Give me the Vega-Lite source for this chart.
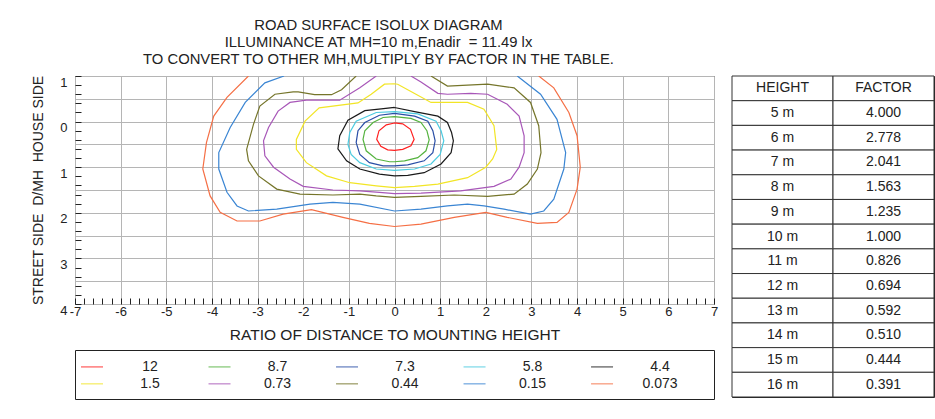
{
  "$schema": "https://vega.github.io/schema/vega-lite/v6.json",
  "autosize": {"type": "pad"},
  "padding": {"left": 31, "top": 17, "right": 0, "bottom": 0},
  "background": "white",
  "config": {
    "font": "Liberation Sans",
    "view": {"stroke": "#222", "strokeWidth": 1},
    "axis": {"labelColor": "#222", "titleColor": "#222", "labelFont": "Liberation Sans", "titleFont": "Liberation Sans", "titleFontWeight": "normal"},
    "title": {"font": "Liberation Sans", "fontSize": 14.8, "fontWeight": "normal", "color": "#222", "lineHeight": 17, "anchor": "middle", "frame": "group", "baseline": "alphabetic", "offset": 6}
  },
  "datasets": {
    "contours": [
      {"lv": "12", "i": 0, "x": 0, "y": 0.03}, {"lv": "12", "i": 1, "x": 0.18, "y": 0.05}, {"lv": "12", "i": 2, "x": 0.35, "y": 0.17}, {"lv": "12", "i": 3, "x": 0.43, "y": 0.39}, {"lv": "12", "i": 4, "x": 0.36, "y": 0.53}, {"lv": "12", "i": 5, "x": 0.18, "y": 0.61}, {"lv": "12", "i": 6, "x": 0, "y": 0.63}, {"lv": "12", "i": 7, "x": -0.15, "y": 0.62}, {"lv": "12", "i": 8, "x": -0.3, "y": 0.54}, {"lv": "12", "i": 9, "x": -0.39, "y": 0.39}, {"lv": "12", "i": 10, "x": -0.34, "y": 0.2}, {"lv": "12", "i": 11, "x": -0.18, "y": 0.07}, {"lv": "12", "i": 12, "x": 0, "y": 0.03},

      {"lv": "8.7", "i": 0, "x": 0, "y": -0.11}, {"lv": "8.7", "i": 1, "x": 0.36, "y": -0.07}, {"lv": "8.7", "i": 2, "x": 0.58, "y": 0.02}, {"lv": "8.7", "i": 3, "x": 0.71, "y": 0.2}, {"lv": "8.7", "i": 4, "x": 0.76, "y": 0.4}, {"lv": "8.7", "i": 5, "x": 0.69, "y": 0.64}, {"lv": "8.7", "i": 6, "x": 0.51, "y": 0.79}, {"lv": "8.7", "i": 7, "x": 0.22, "y": 0.86}, {"lv": "8.7", "i": 8, "x": 0, "y": 0.88}, {"lv": "8.7", "i": 9, "x": -0.11, "y": 0.88}, {"lv": "8.7", "i": 10, "x": -0.4, "y": 0.82}, {"lv": "8.7", "i": 11, "x": -0.62, "y": 0.64}, {"lv": "8.7", "i": 12, "x": -0.69, "y": 0.39}, {"lv": "8.7", "i": 13, "x": -0.65, "y": 0.2}, {"lv": "8.7", "i": 14, "x": -0.47, "y": 0.02}, {"lv": "8.7", "i": 15, "x": -0.25, "y": -0.09}, {"lv": "8.7", "i": 16, "x": 0, "y": -0.11},

      {"lv": "7.3", "i": 0, "x": 0, "y": -0.18}, {"lv": "7.3", "i": 1, "x": 0.44, "y": -0.12}, {"lv": "7.3", "i": 2, "x": 0.73, "y": -0.01}, {"lv": "7.3", "i": 3, "x": 0.84, "y": 0.2}, {"lv": "7.3", "i": 4, "x": 0.89, "y": 0.42}, {"lv": "7.3", "i": 5, "x": 0.84, "y": 0.68}, {"lv": "7.3", "i": 6, "x": 0.65, "y": 0.86}, {"lv": "7.3", "i": 7, "x": 0.29, "y": 0.95}, {"lv": "7.3", "i": 8, "x": 0, "y": 0.97}, {"lv": "7.3", "i": 9, "x": -0.25, "y": 0.97}, {"lv": "7.3", "i": 10, "x": -0.55, "y": 0.9}, {"lv": "7.3", "i": 11, "x": -0.76, "y": 0.72}, {"lv": "7.3", "i": 12, "x": -0.84, "y": 0.46}, {"lv": "7.3", "i": 13, "x": -0.8, "y": 0.2}, {"lv": "7.3", "i": 14, "x": -0.65, "y": 0.02}, {"lv": "7.3", "i": 15, "x": -0.33, "y": -0.14}, {"lv": "7.3", "i": 16, "x": 0, "y": -0.18},

      {"lv": "5.8", "i": 0, "x": 0, "y": -0.22}, {"lv": "5.8", "i": 1, "x": 0.51, "y": -0.17}, {"lv": "5.8", "i": 2, "x": 0.91, "y": -0.01}, {"lv": "5.8", "i": 3, "x": 1.02, "y": 0.2}, {"lv": "5.8", "i": 4, "x": 1.08, "y": 0.42}, {"lv": "5.8", "i": 5, "x": 1.0, "y": 0.72}, {"lv": "5.8", "i": 6, "x": 0.8, "y": 0.93}, {"lv": "5.8", "i": 7, "x": 0.44, "y": 1.04}, {"lv": "5.8", "i": 8, "x": 0, "y": 1.07}, {"lv": "5.8", "i": 9, "x": -0.4, "y": 1.04}, {"lv": "5.8", "i": 10, "x": -0.76, "y": 0.9}, {"lv": "5.8", "i": 11, "x": -0.95, "y": 0.72}, {"lv": "5.8", "i": 12, "x": -1.02, "y": 0.5}, {"lv": "5.8", "i": 13, "x": -0.98, "y": 0.24}, {"lv": "5.8", "i": 14, "x": -0.84, "y": -0.01}, {"lv": "5.8", "i": 15, "x": -0.4, "y": -0.2}, {"lv": "5.8", "i": 16, "x": 0, "y": -0.22},

      {"lv": "4.4", "i": 0, "x": 0, "y": -0.31}, {"lv": "4.4", "i": 1, "x": 0.44, "y": -0.22}, {"lv": "4.4", "i": 2, "x": 0.95, "y": -0.12}, {"lv": "4.4", "i": 3, "x": 1.16, "y": 0.02}, {"lv": "4.4", "i": 4, "x": 1.25, "y": 0.24}, {"lv": "4.4", "i": 5, "x": 1.29, "y": 0.42}, {"lv": "4.4", "i": 6, "x": 1.24, "y": 0.68}, {"lv": "4.4", "i": 7, "x": 1.02, "y": 0.93}, {"lv": "4.4", "i": 8, "x": 0.65, "y": 1.12}, {"lv": "4.4", "i": 9, "x": 0.29, "y": 1.18}, {"lv": "4.4", "i": 10, "x": 0, "y": 1.19}, {"lv": "4.4", "i": 11, "x": -0.33, "y": 1.15}, {"lv": "4.4", "i": 12, "x": -0.76, "y": 1.04}, {"lv": "4.4", "i": 13, "x": -1.05, "y": 0.86}, {"lv": "4.4", "i": 14, "x": -1.24, "y": 0.6}, {"lv": "4.4", "i": 15, "x": -1.2, "y": 0.31}, {"lv": "4.4", "i": 16, "x": -1.02, "y": -0.03}, {"lv": "4.4", "i": 17, "x": -0.65, "y": -0.24}, {"lv": "4.4", "i": 18, "x": -0.29, "y": -0.28}, {"lv": "4.4", "i": 19, "x": 0, "y": -0.31},

      {"lv": "1.5", "i": 0, "x": 0, "y": -0.83}, {"lv": "1.5", "i": 1, "x": 0.07, "y": -0.82}, {"lv": "1.5", "i": 2, "x": 0.36, "y": -0.66}, {"lv": "1.5", "i": 3, "x": 0.8, "y": -0.42}, {"lv": "1.5", "i": 4, "x": 1.6, "y": -0.42}, {"lv": "1.5", "i": 5, "x": 1.96, "y": -0.27}, {"lv": "1.5", "i": 6, "x": 2.18, "y": 0.09}, {"lv": "1.5", "i": 7, "x": 2.24, "y": 0.61}, {"lv": "1.5", "i": 8, "x": 2.15, "y": 0.82}, {"lv": "1.5", "i": 9, "x": 2.0, "y": 1.0}, {"lv": "1.5", "i": 10, "x": 1.6, "y": 1.23}, {"lv": "1.5", "i": 11, "x": 0.95, "y": 1.37}, {"lv": "1.5", "i": 12, "x": 0.44, "y": 1.42}, {"lv": "1.5", "i": 13, "x": 0, "y": 1.45}, {"lv": "1.5", "i": 14, "x": -0.4, "y": 1.41}, {"lv": "1.5", "i": 15, "x": -0.98, "y": 1.34}, {"lv": "1.5", "i": 16, "x": -1.49, "y": 1.19}, {"lv": "1.5", "i": 17, "x": -1.93, "y": 0.9}, {"lv": "1.5", "i": 18, "x": -2.15, "y": 0.61}, {"lv": "1.5", "i": 19, "x": -2.15, "y": 0.39}, {"lv": "1.5", "i": 20, "x": -1.96, "y": -0.01}, {"lv": "1.5", "i": 21, "x": -1.65, "y": -0.3}, {"lv": "1.5", "i": 22, "x": -0.8, "y": -0.41}, {"lv": "1.5", "i": 23, "x": -0.51, "y": -0.6}, {"lv": "1.5", "i": 24, "x": -0.22, "y": -0.82}, {"lv": "1.5", "i": 25, "x": 0, "y": -0.83},

      {"lv": "0.73", "i": 0, "x": -0.4, "y": -1}, {"lv": "0.73", "i": 1, "x": -0.76, "y": -0.74}, {"lv": "0.73", "i": 2, "x": -1.2, "y": -0.47}, {"lv": "0.73", "i": 3, "x": -1.93, "y": -0.47}, {"lv": "0.73", "i": 4, "x": -2.29, "y": -0.42}, {"lv": "0.73", "i": 5, "x": -2.55, "y": -0.23}, {"lv": "0.73", "i": 6, "x": -2.76, "y": 0.13}, {"lv": "0.73", "i": 7, "x": -2.87, "y": 0.42}, {"lv": "0.73", "i": 8, "x": -2.84, "y": 0.75}, {"lv": "0.73", "i": 9, "x": -2.65, "y": 1.0}, {"lv": "0.73", "i": 10, "x": -2.29, "y": 1.26}, {"lv": "0.73", "i": 11, "x": -2.0, "y": 1.42}, {"lv": "0.73", "i": 12, "x": -1.35, "y": 1.5}, {"lv": "0.73", "i": 13, "x": -0.76, "y": 1.52}, {"lv": "0.73", "i": 14, "x": -0.33, "y": 1.55}, {"lv": "0.73", "i": 15, "x": 0, "y": 1.58}, {"lv": "0.73", "i": 16, "x": 0.58, "y": 1.57}, {"lv": "0.73", "i": 17, "x": 1.45, "y": 1.52}, {"lv": "0.73", "i": 18, "x": 2.18, "y": 1.42}, {"lv": "0.73", "i": 19, "x": 2.55, "y": 1.26}, {"lv": "0.73", "i": 20, "x": 2.73, "y": 1.0}, {"lv": "0.73", "i": 21, "x": 2.84, "y": 0.68}, {"lv": "0.73", "i": 22, "x": 2.84, "y": 0.31}, {"lv": "0.73", "i": 23, "x": 2.73, "y": -0.12}, {"lv": "0.73", "i": 24, "x": 2.47, "y": -0.38}, {"lv": "0.73", "i": 25, "x": 2.04, "y": -0.6}, {"lv": "0.73", "i": 26, "x": 1.67, "y": -0.62}, {"lv": "0.73", "i": 27, "x": 1.16, "y": -0.6}, {"lv": "0.73", "i": 28, "x": 0.95, "y": -0.62}, {"lv": "0.73", "i": 29, "x": 0.58, "y": -0.87}, {"lv": "0.73", "i": 30, "x": 0.36, "y": -1},

      {"lv": "0.44", "i": 0, "x": -0.84, "y": -1}, {"lv": "0.44", "i": 1, "x": -1.16, "y": -0.7}, {"lv": "0.44", "i": 2, "x": -1.38, "y": -0.59}, {"lv": "0.44", "i": 3, "x": -1.75, "y": -0.59}, {"lv": "0.44", "i": 4, "x": -2.11, "y": -0.65}, {"lv": "0.44", "i": 5, "x": -2.22, "y": -0.65}, {"lv": "0.44", "i": 6, "x": -2.62, "y": -0.6}, {"lv": "0.44", "i": 7, "x": -2.95, "y": -0.34}, {"lv": "0.44", "i": 8, "x": -3.09, "y": 0.06}, {"lv": "0.44", "i": 9, "x": -3.24, "y": 0.61}, {"lv": "0.44", "i": 10, "x": -3.2, "y": 0.86}, {"lv": "0.44", "i": 11, "x": -2.98, "y": 1.19}, {"lv": "0.44", "i": 12, "x": -2.58, "y": 1.48}, {"lv": "0.44", "i": 13, "x": -2.07, "y": 1.59}, {"lv": "0.44", "i": 14, "x": -1.35, "y": 1.61}, {"lv": "0.44", "i": 15, "x": -0.76, "y": 1.59}, {"lv": "0.44", "i": 16, "x": -0.4, "y": 1.63}, {"lv": "0.44", "i": 17, "x": 0, "y": 1.66}, {"lv": "0.44", "i": 18, "x": 0.58, "y": 1.64}, {"lv": "0.44", "i": 19, "x": 1.31, "y": 1.61}, {"lv": "0.44", "i": 20, "x": 2.04, "y": 1.64}, {"lv": "0.44", "i": 21, "x": 2.62, "y": 1.59}, {"lv": "0.44", "i": 22, "x": 2.91, "y": 1.37}, {"lv": "0.44", "i": 23, "x": 3.13, "y": 1.04}, {"lv": "0.44", "i": 24, "x": 3.21, "y": 0.68}, {"lv": "0.44", "i": 25, "x": 3.16, "y": 0.09}, {"lv": "0.44", "i": 26, "x": 2.98, "y": -0.42}, {"lv": "0.44", "i": 27, "x": 2.62, "y": -0.74}, {"lv": "0.44", "i": 28, "x": 2.04, "y": -0.82}, {"lv": "0.44", "i": 29, "x": 1.16, "y": -0.78}, {"lv": "0.44", "i": 30, "x": 0.8, "y": -1},

      {"lv": "0.15", "i": 0, "x": -2.42, "y": -1}, {"lv": "0.15", "i": 1, "x": -2.84, "y": -0.85}, {"lv": "0.15", "i": 2, "x": -3.27, "y": -0.42}, {"lv": "0.15", "i": 3, "x": -3.6, "y": 0.13}, {"lv": "0.15", "i": 4, "x": -3.85, "y": 0.68}, {"lv": "0.15", "i": 5, "x": -3.85, "y": 1.04}, {"lv": "0.15", "i": 6, "x": -3.67, "y": 1.55}, {"lv": "0.15", "i": 7, "x": -3.45, "y": 1.85}, {"lv": "0.15", "i": 8, "x": -3.2, "y": 1.96}, {"lv": "0.15", "i": 9, "x": -2.58, "y": 1.92}, {"lv": "0.15", "i": 10, "x": -1.85, "y": 1.81}, {"lv": "0.15", "i": 11, "x": -1.35, "y": 1.77}, {"lv": "0.15", "i": 12, "x": -0.76, "y": 1.81}, {"lv": "0.15", "i": 13, "x": 0, "y": 1.96}, {"lv": "0.15", "i": 14, "x": 0.58, "y": 1.92}, {"lv": "0.15", "i": 15, "x": 1.16, "y": 1.85}, {"lv": "0.15", "i": 16, "x": 1.6, "y": 1.81}, {"lv": "0.15", "i": 17, "x": 1.96, "y": 1.85}, {"lv": "0.15", "i": 18, "x": 2.4, "y": 1.92}, {"lv": "0.15", "i": 19, "x": 2.98, "y": 2.03}, {"lv": "0.15", "i": 20, "x": 3.27, "y": 1.96}, {"lv": "0.15", "i": 21, "x": 3.49, "y": 1.7}, {"lv": "0.15", "i": 22, "x": 3.71, "y": 1.04}, {"lv": "0.15", "i": 23, "x": 3.75, "y": 0.68}, {"lv": "0.15", "i": 24, "x": 3.56, "y": -0.05}, {"lv": "0.15", "i": 25, "x": 3.2, "y": -0.6}, {"lv": "0.15", "i": 26, "x": 2.69, "y": -1},

      {"lv": "0.073", "i": 0, "x": -3.2, "y": -1}, {"lv": "0.073", "i": 1, "x": -3.67, "y": -0.53}, {"lv": "0.073", "i": 2, "x": -3.96, "y": -0.12}, {"lv": "0.073", "i": 3, "x": -4.12, "y": 0.46}, {"lv": "0.073", "i": 4, "x": -4.2, "y": 1.04}, {"lv": "0.073", "i": 5, "x": -4.04, "y": 1.63}, {"lv": "0.073", "i": 6, "x": -3.82, "y": 1.99}, {"lv": "0.073", "i": 7, "x": -3.45, "y": 2.18}, {"lv": "0.073", "i": 8, "x": -2.95, "y": 2.18}, {"lv": "0.073", "i": 9, "x": -2.44, "y": 2.03}, {"lv": "0.073", "i": 10, "x": -1.82, "y": 1.93}, {"lv": "0.073", "i": 11, "x": -1.13, "y": 2.1}, {"lv": "0.073", "i": 12, "x": -0.55, "y": 2.23}, {"lv": "0.073", "i": 13, "x": 0, "y": 2.3}, {"lv": "0.073", "i": 14, "x": 0.58, "y": 2.25}, {"lv": "0.073", "i": 15, "x": 1.31, "y": 2.1}, {"lv": "0.073", "i": 16, "x": 2.0, "y": 1.99}, {"lv": "0.073", "i": 17, "x": 2.47, "y": 2.1}, {"lv": "0.073", "i": 18, "x": 3.13, "y": 2.23}, {"lv": "0.073", "i": 19, "x": 3.56, "y": 2.21}, {"lv": "0.073", "i": 20, "x": 3.82, "y": 1.99}, {"lv": "0.073", "i": 21, "x": 4.0, "y": 1.48}, {"lv": "0.073", "i": 22, "x": 4.07, "y": 1.0}, {"lv": "0.073", "i": 23, "x": 4.0, "y": 0.31}, {"lv": "0.073", "i": 24, "x": 3.82, "y": -0.2}, {"lv": "0.073", "i": 25, "x": 3.49, "y": -0.74}, {"lv": "0.073", "i": 26, "x": 3.16, "y": -1}
    ],
    "legend": [
      {"lv": "12", "c": 0, "r": 1}, {"lv": "8.7", "c": 1, "r": 1}, {"lv": "7.3", "c": 2, "r": 1}, {"lv": "5.8", "c": 3, "r": 1}, {"lv": "4.4", "c": 4, "r": 1},
      {"lv": "1.5", "c": 0, "r": 2}, {"lv": "0.73", "c": 1, "r": 2}, {"lv": "0.44", "c": 2, "r": 2}, {"lv": "0.15", "c": 3, "r": 2}, {"lv": "0.073", "c": 4, "r": 2}
    ],
    "table": [
      {"row": 0, "height": "HEIGHT", "factor": "FACTOR"},
      {"row": 1, "height": "5 m", "factor": "4.000"},
      {"row": 2, "height": "6 m", "factor": "2.778"},
      {"row": 3, "height": "7 m", "factor": "2.041"},
      {"row": 4, "height": "8 m", "factor": "1.563"},
      {"row": 5, "height": "9 m", "factor": "1.235"},
      {"row": 6, "height": "10 m", "factor": "1.000"},
      {"row": 7, "height": "11 m", "factor": "0.826"},
      {"row": 8, "height": "12 m", "factor": "0.694"},
      {"row": 9, "height": "13 m", "factor": "0.592"},
      {"row": 10, "height": "14 m", "factor": "0.510"},
      {"row": 11, "height": "15 m", "factor": "0.444"},
      {"row": 12, "height": "16 m", "factor": "0.391"}
    ]
  },
  "spacing": 12,
  "hconcat": [
    {
      "bounds": "flush",
      "spacing": 46,
      "vconcat": [
        {
          "width": 639,
          "height": 228,
          "title": {
            "text": [
              "ROAD SURFACE ISOLUX DIAGRAM",
              "ILLUMINANCE AT MH=10 m,Enadir \u00a0= 11.49 lx",
              "TO CONVERT TO OTHER MH,MULTIPLY BY FACTOR IN THE TABLE."
            ],
            "dx": -16
          },
          "data": {"name": "contours"},
          "layer": [
            {
              "mark": {"type": "line", "strokeWidth": 1.2, "clip": true},
              "encoding": {
                "x": {
                  "field": "x", "type": "quantitative",
                  "scale": {"domain": [-7, 7], "nice": false, "zero": false},
                  "axis": {"orient": "bottom", "values": [-7, -6, -5, -4, -3, -2, -1, 0, 1, 2, 3, 4, 5, 6, 7], "grid": true, "gridColor": "#b5b5b5", "labels": false, "ticks": false, "domain": false, "title": null}
                },
                "y": {
                  "field": "y", "type": "quantitative",
                  "scale": {"domain": [-1, 4], "reverse": true, "nice": false, "zero": false},
                  "axis": {"orient": "left", "values": [-1, -0.5, 0, 0.5, 1, 1.5, 2, 2.5, 3, 3.5, 4], "grid": true, "gridColor": "#b5b5b5", "labels": false, "ticks": false, "domain": false, "title": null}
                },
                "color": {
                  "field": "lv", "type": "nominal",
                  "scale": {
                    "domain": ["12", "8.7", "7.3", "5.8", "4.4", "1.5", "0.73", "0.44", "0.15", "0.073"],
                    "range": ["#ff2020", "#55b33f", "#2a4ea6", "#4ccbe0", "#1a1a1a", "#f2e526", "#a857b8", "#75752a", "#3a85d3", "#f56f45"]
                  },
                  "legend": null
                },
                "order": {"field": "i"}
              }
            },
            {
              "mark": {"type": "point", "opacity": 0},
              "encoding": {
                "x": {
                  "field": "x", "type": "quantitative",
                  "axis": {
                    "orient": "bottom",
                    "values": [-7, -6.8, -6.6, -6.4, -6.2, -6, -5.8, -5.6, -5.4, -5.2, -5, -4.8, -4.6, -4.4, -4.2, -4, -3.8, -3.6, -3.4, -3.2, -3, -2.8, -2.6, -2.4, -2.2, -2, -1.8, -1.6, -1.4, -1.2, -1, -0.8, -0.6, -0.4, -0.2, 0, 0.2, 0.4, 0.6, 0.8, 1, 1.2, 1.4, 1.6, 1.8, 2, 2.2, 2.4, 2.6, 2.8, 3, 3.2, 3.4, 3.6, 3.8, 4, 4.2, 4.4, 4.6, 4.8, 5, 5.2, 5.4, 5.6, 5.8, 6, 6.2, 6.4, 6.6, 6.8, 7],
                    "grid": false, "domain": false,
                    "ticks": true, "tickSize": 6, "tickColor": "#222", "offset": -6,
                    "labelExpr": "datum.value % 1 == 0 ? '' + datum.value : ''",
                    "labelFontSize": 13, "labelPadding": 1, "labelBaseline": "top", "labelFlush": false, "labelOverlap": false,
                    "title": "RATIO OF DISTANCE TO MOUNTING HEIGHT", "titleFontSize": 15.5, "titlePadding": 9
                  }
                },
                "y": {
                  "field": "y", "type": "quantitative",
                  "axis": {
                    "orient": "left",
                    "values": [-1, -0.8, -0.6, -0.4, -0.2, 0, 0.2, 0.4, 0.6, 0.8, 1, 1.2, 1.4, 1.6, 1.8, 2, 2.2, 2.4, 2.6, 2.8, 3, 3.2, 3.4, 3.6, 3.8, 4],
                    "grid": false, "domain": false,
                    "ticks": true, "tickSize": 6, "tickColor": "#222", "offset": -6,
                    "labelExpr": "datum.value % 1 == 0 ? '' + abs(datum.value) : ''",
                    "labelFontSize": 13, "labelPadding": 8, "labelBaseline": "top", "labelOverlap": false, "labelFlush": false,
                    "title": "STREET SIDE\u00a0\u00a0D/MH\u00a0\u00a0HOUSE SIDE", "titleFontSize": 14, "titlePadding": 14
                  }
                }
              }
            }
          ],
          "resolve": {"axis": {"x": "independent", "y": "independent"}}
        },
        {
          "width": 639,
          "height": 49,
          "data": {"name": "legend"},
          "encoding": {
            "x": {"field": "c", "type": "quantitative", "scale": {"domain": [-0.1333, 4.878], "nice": false, "zero": false}, "axis": null},
            "y": {"field": "r", "type": "quantitative", "scale": {"domain": [0, 2.9], "reverse": true, "nice": false, "zero": false}, "axis": null}
          },
          "layer": [
            {
              "mark": {"type": "tick", "orient": "horizontal", "size": 22, "thickness": 1.5, "opacity": 0.6},
              "encoding": {
                "color": {
                  "field": "lv", "type": "nominal",
                  "scale": {
                    "domain": ["12", "8.7", "7.3", "5.8", "4.4", "1.5", "0.73", "0.44", "0.15", "0.073"],
                    "range": ["#ff2020", "#55b33f", "#2a4ea6", "#4ccbe0", "#1a1a1a", "#f2e526", "#a857b8", "#75752a", "#3a85d3", "#f56f45"]
                  },
                  "legend": null
                }
              }
            },
            {
              "mark": {"type": "text", "dx": 58, "fontSize": 14, "color": "#222", "align": "center", "baseline": "middle"},
              "encoding": {"text": {"field": "lv"}}
            }
          ]
        }
      ]
    },
    {
      "width": 202,
      "height": 321,
      "title": {"text": ["\u00a0", "\u00a0", "\u00a0"]},
      "data": {"name": "table"},
      "transform": [{"fold": ["height", "factor"], "as": ["k", "v"]}],
      "encoding": {
        "x": {"field": "k", "type": "nominal", "scale": {"domain": ["height", "factor"], "paddingInner": 0, "paddingOuter": 0}, "axis": null},
        "y": {"field": "row", "type": "ordinal", "scale": {"paddingInner": 0, "paddingOuter": 0}, "axis": null}
      },
      "layer": [
        {"mark": {"type": "rect", "fill": "white", "stroke": "#333", "strokeWidth": 1}},
        {"mark": {"type": "text", "fontSize": 14, "color": "#222"}, "encoding": {"text": {"field": "v"}}}
      ]
    }
  ]
}
